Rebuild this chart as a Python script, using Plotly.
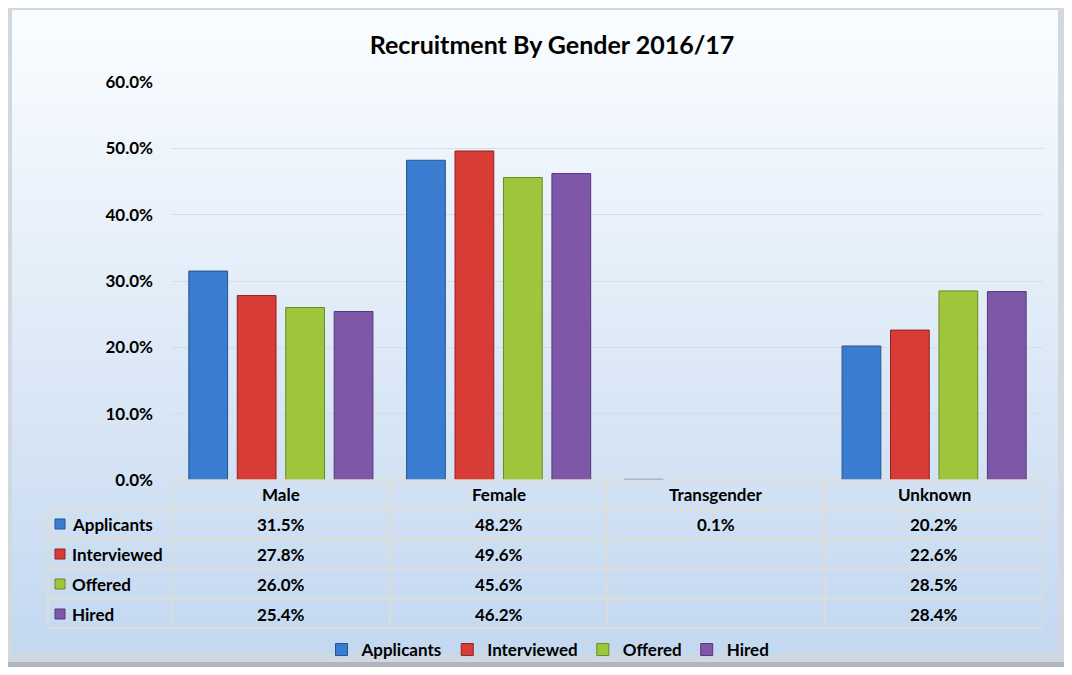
import plotly.graph_objects as go

categories = ["Male", "Female", "Transgender", "Unknown"]
series_names = ["Applicants", "Interviewed", "Offered", "Hired"]
applicants = [31.5, 48.2, 0.1, 20.2]
interviewed = [27.8, 49.6, None, 22.6]
offered = [26.0, 45.6, None, 28.5]
hired = [25.4, 46.2, None, 28.4]
series_values = [applicants, interviewed, offered, hired]
colors = ["#3a7ccf", "#d83c37", "#9ec63c", "#7f57a8"]
edge_colors = ["#24558f", "#8f2220", "#6a8a22", "#55377a"]
title_text = "Recruitment By Gender 2016/17"

# page has an 8px body margin: figure drawn at page offset (8, 8)
OFF = 8
W, H = 1072 - 2 * OFF, 675 - 2 * OFF
L, R, T, B = 172, 1043, 82, 480  # page coords of plot area
FONT = "Lato"
FS = 17


def px_x(p):
    return (p - L) / (R - L)


def px_y(p):
    return (B - p) / (B - T)


def mix(c1, c2, t):
    a = [int(c1[i:i + 2], 16) for i in (1, 3, 5)]
    b = [int(c2[i:i + 2], 16) for i in (1, 3, 5)]
    return "#" + "".join(f"{round(a[k] + (b[k] - a[k]) * t):02x}" for k in range(3))


fig = go.Figure()
for name, vals, c, ec in zip(series_names, series_values, colors, edge_colors):
    fig.add_trace(go.Bar(
        x=categories,
        y=[None if v is None else v / 100 for v in vals],
        name=name,
        marker=dict(color=c, line=dict(color=ec, width=1)),
        hoverinfo="skip",
    ))

shapes = []
# frame shadow / border
shapes.append(dict(type="rect", xref="paper", yref="paper",
                   x0=px_x(8), x1=px_x(1068), y0=px_y(667), y1=px_y(8),
                   fillcolor="#b0b6be", line=dict(width=0), layer="below"))
shapes.append(dict(type="rect", xref="paper", yref="paper",
                   x0=px_x(8), x1=px_x(1064), y0=px_y(662), y1=px_y(8),
                   fillcolor="#d2d8e0", line=dict(width=0), layer="below"))
# gradient background
top_c, bot_c = "#fbfdff", "#c3d8f0"
y_start, y_end = 10, 654
n = 40
for i in range(n):
    y0 = y_start + (y_end - y_start) * i / n
    y1 = y_start + (y_end - y_start) * (i + 1) / n + 0.6
    shapes.append(dict(type="rect", xref="paper", yref="paper",
                       x0=px_x(12), x1=px_x(1058), y0=px_y(min(y1, y_end)), y1=px_y(y0),
                       fillcolor=mix(top_c, bot_c, (i + 0.5) / n),
                       line=dict(width=0), layer="below"))

# table lines
line_c = "#e4dccb"
row_lines = [480, 509, 539, 569, 598, 628]
for i, yy in enumerate(row_lines):
    shapes.append(dict(type="line", xref="paper", yref="paper",
                       x0=px_x(172 if i == 0 else 48), x1=px_x(1043),
                       y0=px_y(yy), y1=px_y(yy), line=dict(color=line_c, width=1.5)))
shapes.append(dict(type="line", xref="paper", yref="paper",
                   x0=px_x(48), x1=px_x(48), y0=px_y(509), y1=px_y(628),
                   line=dict(color=line_c, width=1.5)))
for k in range(len(categories) + 1):
    shapes.append(dict(type="line", xref="x", yref="paper",
                       x0=k - 0.5, x1=k - 0.5, y0=px_y(480), y1=px_y(628),
                       line=dict(color=line_c, width=1.5)))

tfont = dict(family=FONT, size=FS, color="#000", weight="bold")
annotations = []
row_centers = [524, 554, 584, 614]
for k, cat in enumerate(categories):
    annotations.append(dict(x=k, y=px_y(494), xref="x", yref="paper", text=cat,
                            yanchor="middle", showarrow=False, font=tfont))
for r, (name, vals, c, ec) in enumerate(zip(series_names, series_values, colors, edge_colors)):
    yc = row_centers[r]
    shapes.append(dict(type="rect", xref="paper", yref="paper",
                       x0=px_x(55), x1=px_x(65), y0=px_y(yc + 5), y1=px_y(yc - 5),
                       fillcolor=c, line=dict(color=ec, width=1)))
    annotations.append(dict(x=px_x(70), y=px_y(yc), xref="paper", yref="paper", text=name,
                            xanchor="left", yanchor="middle", showarrow=False, font=tfont))
    for k, v in enumerate(vals):
        if v is None:
            continue
        annotations.append(dict(x=k, y=px_y(yc), xref="x", yref="paper", text=f"{v:.1f}%",
                                yanchor="middle", showarrow=False, font=tfont))

fig.update_layout(
    width=W, height=H,
    margin=dict(l=L - OFF, r=(W + OFF) - R, t=T - OFF, b=(H + OFF) - B, pad=0),
    paper_bgcolor="#ffffff",
    plot_bgcolor="rgba(0,0,0,0)",
    barmode="group",
    bargap=0.11,
    bargroupgap=0.2,
    title=dict(text=title_text, x=(552 - OFF) / W, xanchor="center",
               y=1 - (45 - OFF) / H, yanchor="middle",
               font=dict(family=FONT, size=25, color="#000", weight="bold")),
    xaxis=dict(showticklabels=False, showgrid=False, zeroline=False, showline=False,
               range=[-0.5, 3.5], fixedrange=True),
    yaxis=dict(range=[0, 0.6], dtick=0.1, tickformat=".1%", showgrid=True,
               gridcolor="#d9dde2", gridwidth=1, zeroline=False, showline=False,
               ticks="", ticklabelstandoff=18, tickfont=tfont),
    legend=dict(orientation="h", xref="container", yref="container",
                x=(548 - OFF) / W, xanchor="center",
                y=1 - (650 - OFF) / H, yanchor="middle",
                font=tfont, bgcolor="rgba(0,0,0,0)", itemwidth=30, traceorder="normal"),
    shapes=shapes,
    annotations=annotations,
)

fig.write_html("out.html")
